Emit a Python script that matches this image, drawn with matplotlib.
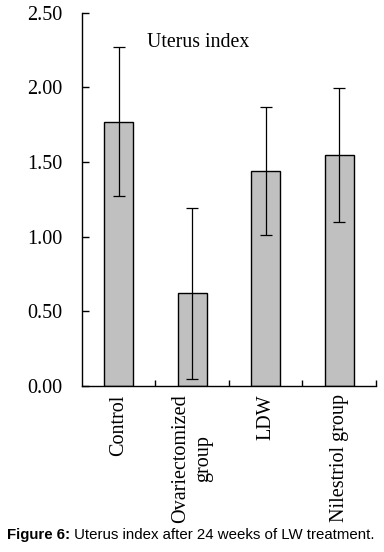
import matplotlib
matplotlib.use("Agg")
import matplotlib.pyplot as plt

groups = ["Control", "Ovariectomized\ngroup", "LDW", "Nilestriol group"]
means = [1.77, 0.62, 1.44, 1.545]
errors = [0.50, 0.57, 0.43, 0.45]
yticks = [0.0, 0.5, 1.0, 1.5, 2.0, 2.5]

serif = ["Liberation Serif", "DejaVu Serif"]
sans = ["Liberation Sans", "DejaVu Sans"]

fig = plt.figure(figsize=(3.84, 5.52), dpi=100)
ax = fig.add_axes([0.2135, 0.3007, 0.7656, 0.6766])

x = list(range(len(groups)))
ax.bar(x, means, width=0.4, color="#c0c0c0", edgecolor="black", linewidth=1.0)
ax.errorbar(x, means, yerr=errors, fmt="none", ecolor="black",
            elinewidth=0.9, capsize=4.5, capthick=0.9)

ax.set_xlim(-0.5, 3.5)
ax.set_ylim(0, 2.5)
ax.spines["top"].set_visible(False)
ax.spines["right"].set_visible(False)
for s in ["left", "bottom"]:
    ax.spines[s].set_linewidth(1.0)

ax.set_yticks(yticks)
ax.set_yticklabels([f"{v:.2f}" for v in yticks], family=serif, fontsize=14.5)
ax.tick_params(axis="y", direction="in", length=5, width=1.0, pad=14)

ax.set_xticks([0.5, 1.5, 2.5, 3.5])
ax.set_xticklabels([])
ax.tick_params(axis="x", direction="in", length=4, width=1.0)

for xi, name in zip(x, groups):
    ax.annotate(name, xy=(xi, 0), xycoords=("data", "axes fraction"),
                xytext=(0, -6), textcoords="offset points",
                rotation=90, ha="center", va="top", multialignment="center",
                family=serif, fontsize=14.5, linespacing=1.25)

ax.text(0.22, 0.92, "Uterus index", transform=ax.transAxes,
        family=serif, fontsize=14.3, va="center", ha="left")

# caption: bold label followed by regular text
t1 = fig.text(7 / 384, 1 - 539 / 552, "Figure 6:", family=sans,
              fontsize=10.8, fontweight="bold", va="baseline", ha="left")
fig.canvas.draw()
bb = t1.get_window_extent()
fig.text(bb.x1, 552 - 539, " Uterus index after 24 weeks of LW treatment.",
         family=sans, fontsize=10.8, va="baseline", ha="left",
         transform=matplotlib.transforms.IdentityTransform())

fig.savefig("out.png", dpi=100)
